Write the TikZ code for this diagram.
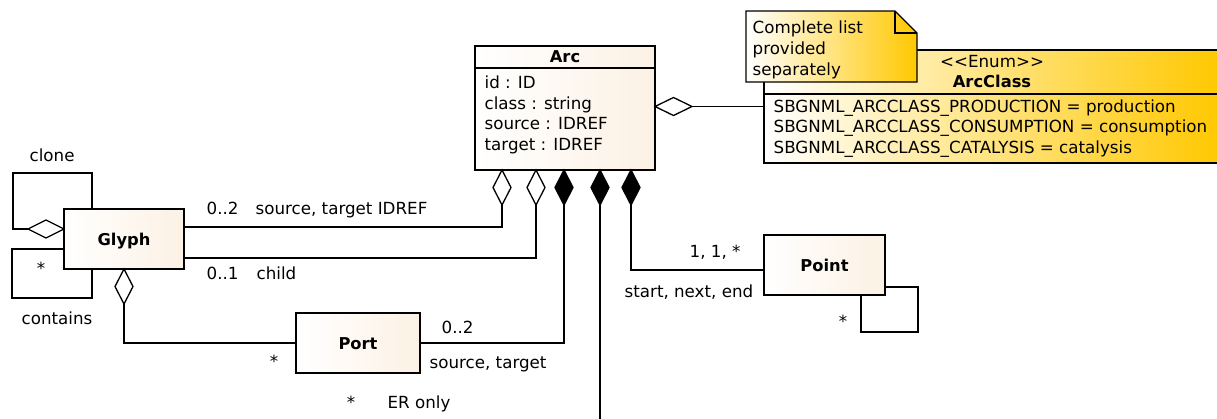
\documentclass[tikz,border=0pt]{standalone}
\usepackage{fontspec}
\setmainfont{DejaVu Sans}
\usetikzlibrary{shapes.geometric,calc}
\definecolor{cream}{RGB}{252,241,228}
\definecolor{gold}{RGB}{255,200,0}
\begin{document}
\begin{tikzpicture}[x=1pt,y=-1pt,line width=1.3pt,
  font=\fontsize{16.7}{20}\selectfont,
  classbox/.style={draw,rectangle,left color=white,right color=cream,inner sep=0pt,outer sep=0pt},
  enumbox/.style={draw,rectangle,left color=white,right color=gold,inner sep=0pt,outer sep=0pt},
  agg/.style={draw,fill=white,diamond,inner sep=0pt,outer sep=0pt,minimum width=18pt,minimum height=35pt},
  comp/.style={agg,fill=black},
  hagg/.style={draw,fill=white,diamond,inner sep=0pt,outer sep=0pt,minimum width=37pt,minimum height=18pt},
  lbl/.style={inner sep=0pt,anchor=base west},
  clbl/.style={inner sep=0pt,anchor=base},
  title/.style={inner sep=0pt,anchor=base,font=\fontsize{16.3}{20}\selectfont\bfseries}]
\useasboundingbox (0,0) rectangle (1217,418);
\clip (0,0) rectangle (1217,418);

% ---- classes ----
\node[classbox,minimum width=180pt,minimum height=124pt] (arc) at (565,108) {};
\draw ($(arc.north west)+(0,22)$) -- ($(arc.north east)+(0,22)$);
\node[title] (arcT) at (565,62) {Arc};
\node[lbl] (a1) at (484,88.5) {id : ID};
\node[lbl] (a2) at (484,109) {class : string};
\node[lbl] (a3) at (484,129.5) {source : IDREF};
\node[lbl] (a4) at (484,150) {target : IDREF};

\node[classbox,minimum width=120pt,minimum height=60pt] (glyph) at (124,239) {};
\node[title] (glyphT) at (124,245.5) {Glyph};

\node[classbox,minimum width=124pt,minimum height=60pt] (port) at (358,343) {};
\node[title] (portT) at (358,349.5) {Port};

\node[classbox,minimum width=121pt,minimum height=60pt] (point) at (824.5,265) {};
\node[title] (pointT) at (824.5,271.5) {Point};

% ---- enumeration ----
\node[enumbox,minimum width=457pt,minimum height=113pt] (arcclass) at (992.5,106.5) {};
\draw ($(arcclass.north west)+(0,44)$) -- ($(arcclass.north east)+(0,44)$);
\node[clbl] (ecS) at (992,67) {<\kern0pt<Enum>\kern0pt>};
\node[title] (ecT) at (992,87) {ArcClass};
\node[lbl] (e1) at (773,112) {SBGNML\_ARCCLASS\_PRODUCTION = production};
\node[lbl] (e2) at (773,132.5) {SBGNML\_ARCCLASS\_CONSUMPTION = consumption};
\node[lbl] (e3) at (773,153) {SBGNML\_ARCCLASS\_CATALYSIS = catalysis};

% ---- note ----
\shade[left color=white,right color=gold] (746,11) -- (895,11) -- (917,33) -- (917,82) -- (746,82) -- cycle;
\draw (746,11) -- (895,11) -- (917,33) -- (917,82) -- (746,82) -- cycle;
\draw (895,11) -- (895,33) -- (917,33);
\node[lbl] (n1) at (752,33) {Complete list};
\node[lbl] (n2) at (752,54) {provided};
\node[lbl] (n3) at (752,75) {separately};

% ---- diamonds on Arc ----
\node[agg,anchor=north] (d1) at ($(arc.south west)+(27,0)$) {};
\node[agg,anchor=north] (d2) at ($(arc.south west)+(61,0)$) {};
\node[comp,anchor=north] (d3) at ($(arc.south west)+(89,0)$) {};
\node[comp,anchor=north] (d4) at ($(arc.south west)+(125,0)$) {};
\node[comp,anchor=north] (d5) at ($(arc.south west)+(156,0)$) {};
\node[hagg,anchor=west] (dA) at ($(arc.east)+(0,-1.5)$) {};

% ---- diamonds on Glyph ----
\node[hagg,anchor=east,minimum width=36pt] (dC) at ($(glyph.west)+(0,-10)$) {};
\node[agg,anchor=north] (dG) at (glyph.south) {};

\coordinate (bottom) at (0,425);

% ---- connectors ----
\draw (d1.south) |- ($(glyph.east)+(0,-12)$);
\draw (d2.south) |- ($(glyph.east)+(0,19)$);
\draw (d3.south) |- (port.east);
\draw (d4.south) -- (d4.south |- bottom);
\draw (d5.south) |- ($(point.west)+(0,5)$);
\draw (dA.east) -- (dA.east -| arcclass.west);
\draw ($(glyph.north west)+(28,0)$) -- ++(0,-36) -| ($(dC.west)+(-15,0)$) -- (dC.west);
\draw ($(glyph.west)+(0,10)$) -- ++(-52,0) -- ++(0,49) -| ($(glyph.south west)+(28,0)$);
\draw (dG.south) |- (port.west);
\draw ($(port.south)+(12,0)$) -- ($(port.south)+(12,0)$ |- bottom);
\draw ($(point.south east)+(0,-8)$) -- ++(33,0) -- ++(0,45) -| ($(point.south east)+(-24,0)$);

% ---- association labels ----
\node[lbl] (l1) at (29,161) {clone};
\node[lbl] (l2) at (21,324) {contains};
\node[clbl] (l3) at (41,274) {*};
\node[lbl] (l4) at (206,214) {0..2};
\node[lbl] (l5) at (255,214) {source, target IDREF};
\node[lbl] (l6) at (206,279) {0..1};
\node[lbl] (l7) at (256,279) {child};
\node[lbl] (l8) at (441,333) {0..2};
\node[lbl] (l9) at (429,368) {source, target};
\node[clbl] (l10) at (274,367) {*};
\node[clbl] (l11) at (351,408) {*};
\node[lbl] (l12) at (387,408) {ER only};
\node[lbl] (l13) at (689,257) {1, 1, *};
\node[lbl] (l14) at (624,297) {start, next, end};
\node[clbl] (l15) at (843,327) {*};
\end{tikzpicture}
\end{document}
